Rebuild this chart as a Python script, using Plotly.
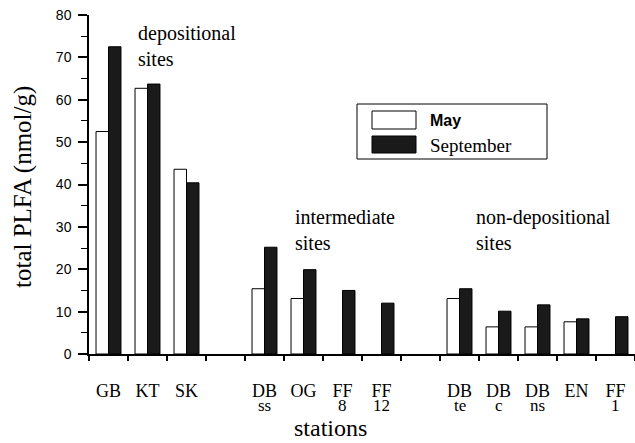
import plotly.graph_objects as go

categories = ["GB", "KT", "SK", "gap1", "DBss", "OG", "FF8", "FF12", "gap2",
              "DBte", "DBc", "DBns", "EN", "FF1"]
tick_top = ["GB", "KT", "SK", "", "DB", "OG", "FF", "FF", "", "DB", "DB", "DB", "EN", "FF"]
tick_sub = ["", "", "", "", "ss", "", "8", "12", "", "te", "c", "ns", "", "1"]
may = [52.5, 62.7, 43.6, None, 15.4, 13.1, None, None, None, 13.1, 6.4, 6.4, 7.6, None]
september = [72.5, 63.7, 40.4, None, 25.2, 19.9, 15.0, 12.0, None, 15.4, 10.1, 11.6, 8.3, 8.8]
y_ticks = [0, 10, 20, 30, 40, 50, 60, 70, 80]

SERIF = "Liberation Serif"
SANS = "Liberation Sans"

fig = go.Figure()
fig.add_trace(go.Bar(x=categories, y=may, name="May",
                     marker=dict(color="white", line=dict(color="black", width=1))))
fig.add_trace(go.Bar(x=categories, y=september, name="September",
                     marker=dict(color="#1a1a1a", line=dict(color="black", width=1))))

W, H = 635, 443
L, R, T, B = 89, 0, 15, 89
pw, ph = W - L - R, H - T - B

def px(x):
    return (x - L) / pw

def py(y):
    return (H - B - y) / ph

annotations = []
for c, s in zip(categories, tick_sub):
    if s:
        annotations.append(dict(x=c, xref="x", y=0, yref="paper", text=s, showarrow=False,
                                yanchor="top", yshift=-40, font=dict(family=SERIF, size=17, color="black")))

for txt, x, y in [("depositional<br>sites", 136, 20), ("intermediate<br>sites", 293, 204),
                  ("non-depositional<br>sites", 474, 204)]:
    annotations.append(dict(x=px(x), y=py(y), xref="paper", yref="paper", text=txt, showarrow=False,
                            xanchor="left", yanchor="top", align="left",
                            font=dict(family=SERIF, size=20, color="black")))

annotations.append(dict(x=px(330), y=0, xref="paper", yref="paper", text="stations",
                        showarrow=False, xanchor="center", yanchor="bottom", yshift=-B,
                        font=dict(family=SERIF, size=24, color="black")))
annotations.append(dict(x=px(23), y=py(187), xref="paper", yref="paper", text="total PLFA (nmol/g)",
                        showarrow=False, xanchor="center", yanchor="middle", textangle=-90,
                        font=dict(family=SERIF, size=25, color="black")))

# legend
annotations.append(dict(x=px(428), y=py(120), xref="paper", yref="paper", text="<b>May</b>", showarrow=False,
                        xanchor="left", yanchor="middle", font=dict(family=SANS, size=16, color="black")))
annotations.append(dict(x=px(428), y=py(145), xref="paper", yref="paper", text="September", showarrow=False,
                        xanchor="left", yanchor="middle", font=dict(family=SERIF, size=19, color="black")))

shapes = [
    dict(type="rect", xref="paper", yref="paper", x0=px(357), x1=px(547), y0=py(159), y1=py(104),
         line=dict(color="black", width=1), fillcolor="white", layer="above"),
    dict(type="rect", xref="paper", yref="paper", x0=px(372), x1=px(416), y0=py(129), y1=py(111),
         line=dict(color="black", width=1), fillcolor="white", layer="above"),
    dict(type="rect", xref="paper", yref="paper", x0=px(372), x1=px(416), y0=py(153), y1=py(136),
         line=dict(color="black", width=1), fillcolor="#1a1a1a", layer="above"),
]

fig.update_layout(
    width=W, height=H, margin=dict(l=L, r=R, t=T, b=B, pad=0),
    paper_bgcolor="white", plot_bgcolor="white",
    barmode="group", bargap=0.36, bargroupgap=0,
    showlegend=False,
    annotations=annotations, shapes=shapes,
    xaxis=dict(type="category", categoryorder="array", categoryarray=categories,
               tickmode="array", tickvals=categories, ticktext=tick_top,
               tickson="boundaries", ticks="outside", ticklen=5, tickwidth=1.5, tickcolor="black",
               showline=True, linecolor="black", linewidth=1.5, showgrid=False, zeroline=False,
               ticklabelstandoff=20,
               tickfont=dict(family=SERIF, size=18, color="black"), range=[-0.5, 13.5]),
    yaxis=dict(range=[0, 80], tickmode="array", tickvals=y_ticks, ticks="outside", ticklen=9,
               tickwidth=1.5, tickcolor="black", showline=True, linecolor="black", linewidth=1.5,
               showgrid=False, zeroline=False, ticklabelstandoff=4,
               minor=dict(dtick=5, tick0=0, ticks="outside", ticklen=6, tickwidth=1, tickcolor="black"),
               tickfont=dict(family=SANS, size=14, color="black")),
)

fig.write_html("out.html")
